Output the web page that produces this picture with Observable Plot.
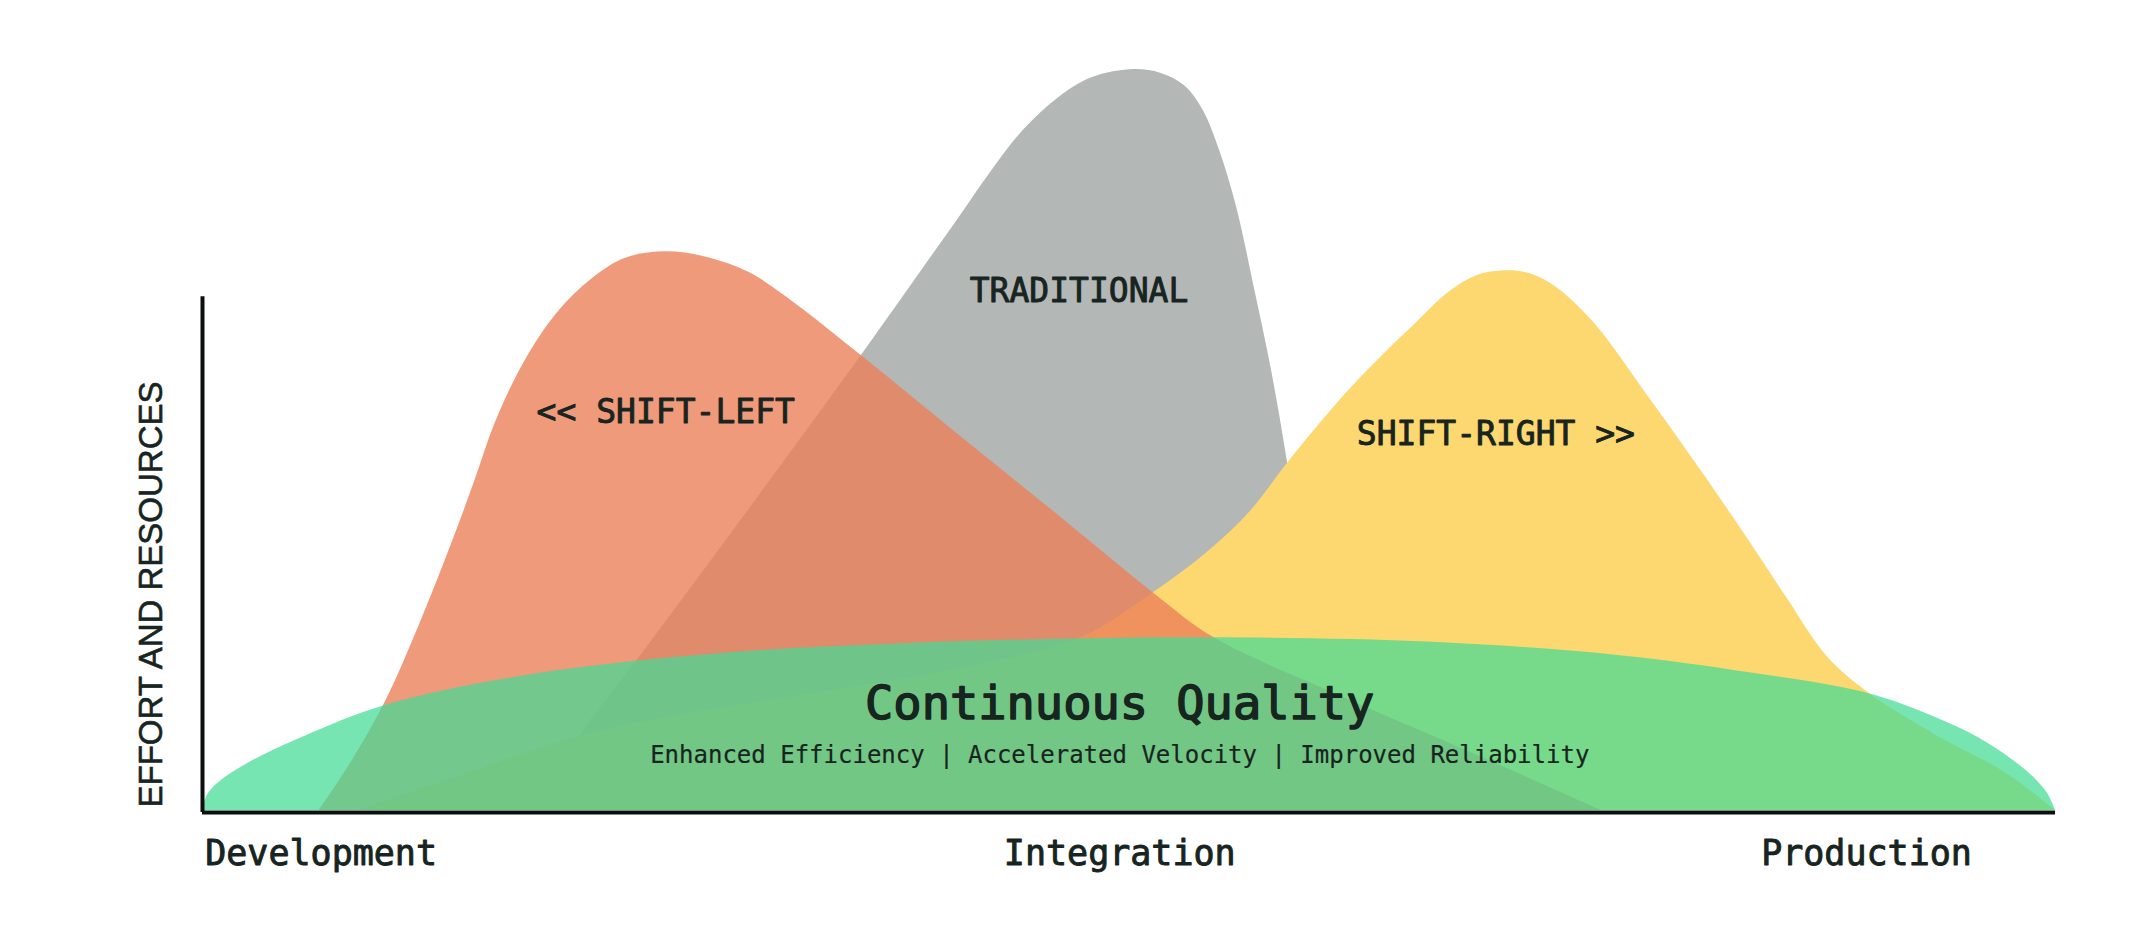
<!DOCTYPE html>
<html>
<head>
<meta charset="utf-8">
<script src="https://cdn.jsdelivr.net/npm/d3@7"></script>
<script src="https://cdn.jsdelivr.net/npm/@observablehq/plot@0.6"></script>
<style>
  html, body { margin: 0; padding: 0; background: #ffffff; }
  #chart svg { display: block; }
</style>
</head>
<body>
<div id="chart"></div>
<script>
// ---- data (x: stage position 0–100, y: effort 0–100) ----
const stageLabels = ["Development", "Integration", "Production"];
const stagePos = [6.4, 49.5, 89.8];

const traditionalX = [18.3, 19.4, 20.4, 23.5, 27.6, 35.5, 39.5, 41.0, 42.5, 44.3, 46.2, 48.0, 50.3, 51.7, 53.0, 54.0, 54.9, 55.8, 56.7, 57.7, 58.6, 59.5, 60.5, 61.3];
const traditionalY = [0, 5.2, 10.1, 20.4, 34.2, 61.2, 75.3, 80.6, 86.0, 91.8, 96.2, 98.9, 100, 99.5, 97.8, 94.5, 89.0, 81.5, 71.3, 59.3, 46.3, 31.5, 15.0, 0];

const shiftRightX = [8.4, 14.3, 20.4, 28.0, 35.1, 41.0, 47.4, 51.2, 54.3, 56.6, 58.6, 61.4, 63.2, 65.5, 67.3, 68.8, 70.1, 71.4, 72.9, 75.1, 78.1, 81.0, 83.3, 85.5, 87.7, 89.9, 93.6, 97.3, 100];
const shiftRightY = [0, 5.0, 10.1, 13.8, 16.6, 19.2, 23.3, 29.2, 35.0, 40.5, 47.0, 55.4, 60.2, 65.8, 70.0, 72.2, 72.8, 72.6, 70.9, 65.8, 55.6, 45.4, 37.0, 28.7, 20.7, 15.9, 10.1, 5.1, 0];

const shiftLeftX = [6.3, 8.0, 9.9, 11.7, 13.6, 14.7, 15.8, 17.3, 19.1, 21.0, 22.8, 25.0, 27.3, 29.5, 31.4, 35.5, 41.0, 46.2, 51.4, 54.6, 61.0, 68.3, 75.5];
const shiftLeftY = [0, 6.4, 14.8, 25.0, 37.0, 44.5, 52.3, 60.2, 67.0, 71.7, 74.5, 75.4, 74.6, 72.6, 69.5, 61.5, 50.3, 39.8, 29.2, 23.3, 15.9, 8.0, 0];

const qualityX = [0, 0.25, 0.8, 1.8, 3.4, 5.5, 9.9, 17.9, 28.0, 37.7, 46.0, 54.6, 66.4, 76.5, 83.5, 89.9, 93.5, 95.8, 97.6, 98.9, 99.6, 100];
const qualityY = [0, 2.0, 3.6, 5.4, 7.6, 10.0, 14.2, 18.4, 21.2, 22.5, 23.1, 23.3, 22.7, 20.9, 18.6, 15.8, 12.6, 9.9, 7.0, 4.3, 2.2, 0];

const curveLabels = ["<< SHIFT-LEFT", "TRADITIONAL", "SHIFT-RIGHT >>"];
const curveLabelX = [25.0, 47.3, 69.8];
const curveLabelY = [53.7, 70.0, 50.7];

const bandTitle = "Continuous Quality";
const bandSubtitle = "Enhanced Efficiency | Accelerated Velocity | Improved Reliability";
const bandX = 49.5;
const bandTitleY = 14.4;
const bandSubtitleY = 7.4;

const yAxisLabel = "EFFORT AND RESOURCES";
const yAxisTop = 69.6;

// ---- chart ----
const rows = (xs, ys) => xs.map((x, i) => ({x, y: ys[i]}));
const ink = "#17241f";
const mono = "'DejaVu Sans Mono', monospace";

const chart = Plot.plot({
  width: 2154,
  height: 938,
  marginLeft: 202,
  marginRight: 99,
  marginTop: 69,
  marginBottom: 128,
  x: {domain: [0, 100], axis: null},
  y: {domain: [0, 100], axis: null},
  style: {background: "#ffffff", fontFamily: mono, color: ink},
  marks: [
    Plot.areaY(rows(traditionalX, traditionalY), {x: "x", y: "y", fill: "#b3b7b6", curve: "catmull-rom"}),
    Plot.areaY(rows(shiftRightX, shiftRightY), {x: "x", y: "y", fill: "#fdd870", curve: "catmull-rom"}),
    Plot.areaY(rows(shiftLeftX, shiftLeftY), {x: "x", y: "y", fill: "#eb815a", fillOpacity: 0.8, curve: "catmull-rom"}),
    Plot.areaY(rows(qualityX, qualityY), {x: "x", y: "y", fill: "#43db94", fillOpacity: 0.72, curve: "catmull-rom"}),
    Plot.ruleY([0], {x1: 0, x2: 100, stroke: "#0b0f0d", strokeWidth: 4, dy: 2}),
    Plot.ruleX([0], {y1: 0, y2: yAxisTop, stroke: "#0b0f0d", strokeWidth: 4, dy: 2}),
    Plot.text(curveLabels, {
      x: (d, i) => curveLabelX[i], y: (d, i) => curveLabelY[i], text: d => d,
      fontSize: 33, fill: ink, stroke: ink, strokeWidth: 0.9,
      textAnchor: "middle", lineAnchor: "middle", fontFamily: mono
    }),
    Plot.text([bandTitle], {
      x: bandX, y: bandTitleY, text: d => d,
      fontSize: 47, fill: ink, stroke: ink, strokeWidth: 1.5,
      textAnchor: "middle", lineAnchor: "middle", fontFamily: mono
    }),
    Plot.text([bandSubtitle], {
      x: bandX, y: bandSubtitleY, text: d => d,
      fontSize: 24, fill: ink, stroke: ink, strokeWidth: 0.2,
      textAnchor: "middle", lineAnchor: "middle", fontFamily: mono
    }),
    Plot.text(stageLabels, {
      x: (d, i) => stagePos[i], y: 0, text: d => d, dy: 43,
      fontSize: 35, fill: ink, stroke: ink, strokeWidth: 0.9,
      textAnchor: "middle", lineAnchor: "middle", fontFamily: mono
    }),
    Plot.text([yAxisLabel], {
      frameAnchor: "left", y: 0, text: d => d, dx: -51, dy: -3,
      rotate: -90, textAnchor: "start", lineAnchor: "middle",
      fontSize: 33, fill: ink, stroke: ink, strokeWidth: 0.6,
      fontFamily: "'Liberation Sans', Arial, sans-serif"
    })
  ]
});

document.getElementById("chart").appendChild(chart);
</script>
</body>
</html>
